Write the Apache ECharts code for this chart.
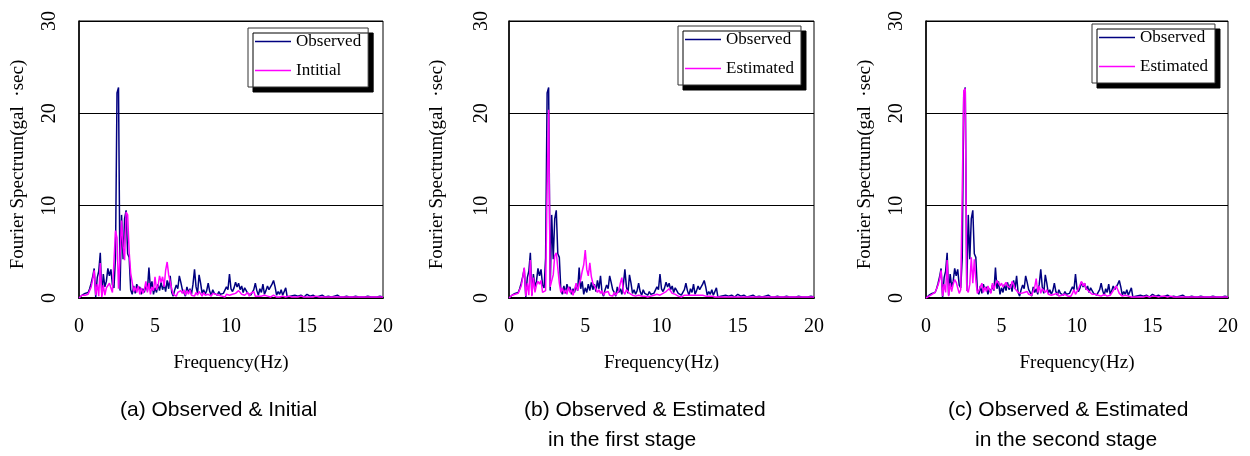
<!DOCTYPE html>
<html>
<head>
<meta charset="utf-8">
<script src="https://cdn.jsdelivr.net/npm/echarts@6/dist/echarts.min.js"></script>
<style>
html,body{margin:0;padding:0;background:#fff;}
#chart{width:1250px;height:456px;}
</style>
</head>
<body>
<div id="chart"></div>
<script>
// Frequency sampling (Hz)
const freq = [
0,0.1,0.2,0.3,0.4,0.5,0.6,0.7,0.8,0.9,
1,1.1,1.2,1.3,1.4,1.5,1.6,1.7,1.8,1.9,
2,2.1,2.2,2.3,2.4,2.5,2.6,2.7,2.8,2.9,
3,3.1,3.2,3.3,3.4,3.5,3.6,3.7,3.8,3.9,
4,4.1,4.2,4.3,4.4,4.5,4.6,4.7,4.8,4.9,
5,5.1,5.2,5.3,5.4,5.5,5.6,5.7,5.8,5.9,
6,6.1,6.2,6.3,6.4,6.5,6.6,6.7,6.8,6.9,
7,7.1,7.2,7.3,7.4,7.5,7.6,7.7,7.8,7.9,
8,8.1,8.2,8.3,8.4,8.5,8.6,8.7,8.8,8.9,
9,9.1,9.2,9.3,9.4,9.5,9.6,9.7,9.8,9.9,
10,10.1,10.2,10.3,10.4,10.5,10.6,10.7,10.8,10.9,
11,11.1,11.2,11.3,11.4,11.5,11.6,11.7,11.8,11.9,
12,12.1,12.2,12.3,12.4,12.5,12.6,12.7,12.8,12.9,
13,13.1,13.2,13.3,13.4,13.5,13.6,13.7,13.8,13.9,
14,
14.2,14.4,14.6,14.8,15,15.2,15.4,15.6,15.8,16,
16.2,16.4,16.6,16.8,17,17.2,17.4,17.6,17.8,18,
18.2,18.4,18.6,18.8,19,19.2,19.4,19.6,19.8,20
];

// Observed spectrum (gal·sec)
const observed = [
0,0.1,0.3,0.2,0.5,0.7,0.6,1.0,1.6,2.3,
3.2,0.1,2.2,2.9,4.9,0.3,2.6,1.2,1.8,3.2,
2.4,3.1,1.4,1.1,4.3,22.2,22.8,0.8,9.0,4.2,
8.6,9.5,4.8,4.4,0.9,0.4,1.3,0.5,1.5,0.9,
1.2,0.4,1.0,0.6,1.4,0.8,3.3,1.0,1.8,0.4,
1.1,0.6,1.5,0.8,1.7,0.9,1.5,0.7,1.9,1.0,
2.4,0.6,0.2,0.9,1.4,1.0,2.4,1.7,0.9,0.6,
0.2,1.2,0.6,1.0,0.4,1.5,3.1,1.2,0.5,2.5,
1.6,0.5,0.9,0.4,0.8,1.6,0.7,0.3,0.9,0.5,
0.6,0.3,0.7,0.4,0.2,0.5,0.3,1.2,0.9,2.6,
1.0,0.7,1.1,1.7,1.2,1.6,0.9,1.3,0.6,1.1,
0.8,0.5,0.7,0.3,0.6,0.9,1.6,0.8,0.3,1.0,
0.6,1.5,0.4,0.8,1.3,0.9,1.0,1.5,1.9,1.2,
0.3,0.7,0.4,0.9,0.3,0.2,1.1,0.1,0.1,0.2,
0.1,
0.3,0.2,0.3,0.1,0.4,0.2,0.3,0.1,0.2,0.3,
0.1,0.2,0.1,0.2,0.3,0.1,0.1,0.2,0.1,0.1,
0.2,0.1,0.1,0.1,0.2,0.1,0.1,0.1,0.2,0.1
];

// Initial model spectrum
const initial = [
0,0.1,0.3,0.2,0.3,0.5,0.4,0.8,1.2,2.0,
3.0,0.3,1.5,0.2,3.8,0.1,1.4,0.3,1.1,1.3,
1.6,1.5,0.6,0.4,7.3,6.5,1.0,4.5,8.4,5.6,
4.1,9.3,9.0,5.0,2.7,2.9,0.7,1.2,0.6,1.3,
0.4,1.1,0.5,0.9,1.8,0.6,1.6,0.4,1.2,0.8,
2.3,0.9,1.3,2.4,1.7,2.3,1.2,3.0,3.9,2.5,
2.4,1.0,0.4,0.5,0.2,0.6,0.4,0.8,0.5,0.9,
0.3,0.8,0.4,0.9,0.3,0.5,0.2,0.6,0.3,0.7,
0.5,0.2,0.6,0.3,0.5,0.4,0.6,0.2,0.5,0.3,
0.4,0.2,0.3,0.5,0.2,0.3,0.1,0.4,0.2,0.3,
0.1,0.4,0.3,0.5,0.6,0.8,0.7,0.4,0.6,0.3,
0.4,0.6,0.2,0.5,0.3,0.7,0.2,0.1,0.2,0.3,
0.2,0.1,0.3,0.2,0.2,0.3,0.1,0.2,0.3,0.2,
0.1,0.2,0.1,0.1,0.2,0.1,0.1,0.1,0.2,0.1,
0.1,
0.1,0.1,0.2,0.1,0.1,0.1,0.1,0.2,0.1,0.1,
0.1,0.1,0.1,0.1,0.1,0.1,0.1,0.1,0.1,0.1,
0.1,0.1,0.1,0.1,0.1,0.1,0.1,0.1,0.1,0.1
];

// Estimated spectrum, first stage
const estimated1 = [
0,0.1,0.3,0.2,0.4,0.5,0.5,0.9,1.3,2.2,
3.3,0.2,1.6,0.3,4.1,0.2,2.2,0.6,1.4,1.8,
1.5,1.9,0.6,0.4,0.8,12.0,20.4,1.2,1.4,2.5,
4.6,4.9,5.1,1.6,0.6,1.1,0.5,0.9,0.4,1.2,
0.6,0.9,0.3,0.9,1.6,0.8,1.5,2.0,2.9,3.6,
5.2,3.1,2.4,3.8,2.3,1.6,1.8,1.0,0.6,0.9,
0.5,0.8,0.3,0.6,0.4,0.7,0.3,0.5,0.2,0.6,
0.3,0.5,0.8,1.6,2.2,0.7,0.4,0.9,1.1,0.5,
0.7,0.3,0.5,0.2,0.4,0.3,0.4,0.2,0.3,0.2,
0.3,0.1,0.3,0.2,0.1,0.3,0.2,0.4,0.2,0.3,
0.2,0.5,0.4,0.7,0.9,1.0,0.8,0.5,0.7,0.4,
0.3,0.2,0.3,0.1,0.2,0.3,0.2,0.3,0.2,0.3,
0.2,0.3,0.2,0.3,0.4,0.3,0.2,0.3,0.2,0.2,
0.1,0.2,0.1,0.2,0.1,0.1,0.1,0.1,0.1,0.1,
0.1,
0.1,0.1,0.1,0.1,0.1,0.1,0.1,0.1,0.1,0.1,
0.1,0.1,0.1,0.1,0.1,0.1,0.1,0.1,0.1,0.1,
0.1,0.1,0.1,0.1,0.1,0.1,0.1,0.1,0.1,0.1
];

// Estimated spectrum, second stage
const estimated2 = [
0,0.1,0.2,0.3,0.4,0.5,0.6,1.0,1.4,2.0,
3.0,0.2,1.5,0.6,4.1,0.2,1.6,0.7,1.5,2.0,
1.7,1.9,0.5,0.9,1.0,22.4,22.7,0.9,0.6,1.5,
4.4,1.6,4.2,1.9,0.5,0.8,1.2,1.6,0.6,1.2,
0.7,1.3,1.2,0.5,1.6,0.9,1.5,1.9,1.7,1.3,
1.6,1.2,1.4,1.7,1.3,1.5,1.1,1.8,1.5,1.0,
0.9,0.6,0.8,0.5,0.3,0.6,0.4,0.7,0.4,0.6,
0.3,0.5,1.2,2.1,0.6,1.3,0.5,1.0,0.8,0.6,
0.9,0.4,0.6,0.3,0.5,0.4,0.3,0.5,0.2,0.4,
0.3,0.2,0.4,0.3,0.2,0.3,0.2,0.5,0.9,0.4,
0.6,1.0,1.4,1.8,1.3,1.6,1.0,1.1,0.7,0.5,
0.4,0.3,0.4,0.2,0.3,0.4,0.2,0.3,0.4,0.3,
0.2,0.4,0.3,0.5,0.8,1.0,1.3,0.9,0.5,0.3,
0.2,0.2,0.3,0.2,0.2,0.1,0.1,0.2,0.1,0.1,
0.1,
0.1,0.1,0.2,0.1,0.2,0.2,0.1,0.2,0.2,0.1,
0.2,0.1,0.1,0.1,0.1,0.1,0.1,0.1,0.1,0.1,
0.1,0.1,0.1,0.1,0.1,0.1,0.1,0.1,0.1,0.1
];

const xTicks = [0, 5, 10, 15, 20];
const yTicks = [0, 10, 20, 30];
const panels = [
  { model: initial,    modelName: 'Intitial',  caption: ['(a) Observed & Initial'] },
  { model: estimated1, modelName: 'Estimated', caption: ['(b) Observed & Estimated', 'in the first stage'] },
  { model: estimated2, modelName: 'Estimated', caption: ['(c) Observed & Estimated', 'in the second stage'] }
];

const SERIF = '"Liberation Serif", "Times New Roman", serif';
const SANS = '"Liberation Sans", Arial, sans-serif';
const NAVY = '#000080';
const MAGENTA = '#ff00ff';
const LINE_ICON = 'path://M0,0H36V1.6H0Z';

const gridPos = [
  { left: 79,  top: 21, width: 304, height: 277 },
  { left: 509, top: 21, width: 305, height: 277 },
  { left: 926, top: 21, width: 302, height: 277 }
];
const yNameGap = [51, 62, 51];
const yLabelMargin = [19, 17, 19];
const legendPos = [
  { left: 248, top: 28 },
  { left: 678, top: 26 },
  { left: 1092, top: 24 }
];
const captionPos = [
  [{ left: 120, top: 400 }],
  [{ left: 524, top: 400 }, { left: 548, top: 430 }],
  [{ left: 948, top: 400 }, { left: 975, top: 430 }]
];

const option = {
  backgroundColor: '#fff',
  animation: false,
  grid: gridPos.map(g => Object.assign({ show: true, borderColor: '#000', borderWidth: 1, backgroundColor: '#fff' }, g)),
  xAxis: gridPos.map((g, i) => ({
    type: 'value', gridIndex: i, min: xTicks[0], max: xTicks[xTicks.length - 1], interval: 5,
    name: 'Frequency(Hz)', nameLocation: 'middle', nameGap: 56,
    nameTextStyle: { fontFamily: SERIF, fontSize: 19, color: '#000' },
    axisLine: { show: true, lineStyle: { color: '#000', width: 2 } },
    axisTick: { show: false },
    axisLabel: { fontFamily: SERIF, fontSize: 20, color: '#000', margin: 19 },
    splitLine: { show: false }
  })),
  yAxis: gridPos.map((g, i) => ({
    type: 'value', gridIndex: i, min: yTicks[0], max: yTicks[yTicks.length - 1], interval: 10,
    name: 'Fourier Spectrum(gal  \u00b7sec)', nameLocation: 'middle', nameGap: yNameGap[i], nameRotate: 90,
    nameTextStyle: { fontFamily: SERIF, fontSize: 19, color: '#000', padding: [0, 10, 0, 0] },
    axisLine: { show: true, lineStyle: { color: '#000', width: 1.5 } },
    axisTick: { show: false },
    axisLabel: { fontFamily: SERIF, fontSize: 20, color: '#000', rotate: 90, margin: yLabelMargin[i] },
    splitLine: { show: true, lineStyle: { color: '#000', width: 1 } }
  })),
  legend: panels.map((p, i) => ({
    orient: 'vertical', left: legendPos[i].left, top: legendPos[i].top,
    data: [
      { name: 'Observed', icon: LINE_ICON },
      { name: p.modelName, icon: LINE_ICON }
    ],
    itemWidth: 36, itemHeight: 18, itemGap: 12,
    padding: [5, 7, 8, 7],
    backgroundColor: '#fff', borderColor: '#333', borderWidth: 1,
    shadowColor: '#000', shadowBlur: 0, shadowOffsetX: 5, shadowOffsetY: 5,
    textStyle: { fontFamily: SERIF, fontSize: 17, color: '#000' },
    selectedMode: false
  })),
  title: [],
  series: []
};

panels.forEach((p, i) => {
  option.series.push({
    type: 'line', name: 'Observed', xAxisIndex: i, yAxisIndex: i,
    data: freq.map((f, k) => [f, observed[k]]),
    symbol: 'none', lineStyle: { color: NAVY, width: 1.5 }, itemStyle: { color: NAVY }
  });
  option.series.push({
    type: 'line', name: p.modelName, xAxisIndex: i, yAxisIndex: i,
    data: freq.map((f, k) => [f, p.model[k]]),
    symbol: 'none', lineStyle: { color: MAGENTA, width: 1.5 }, itemStyle: { color: MAGENTA }
  });
  p.caption.forEach((txt, j) => {
    option.title.push({
      text: txt, left: captionPos[i][j].left, top: captionPos[i][j].top, padding: 0,
      textStyle: { fontFamily: SANS, fontSize: 21, fontWeight: 'normal', color: '#000' }
    });
  });
});

const chart = echarts.init(document.getElementById('chart'), null, { renderer: 'canvas' });
chart.setOption(option);
</script>
</body>
</html>
